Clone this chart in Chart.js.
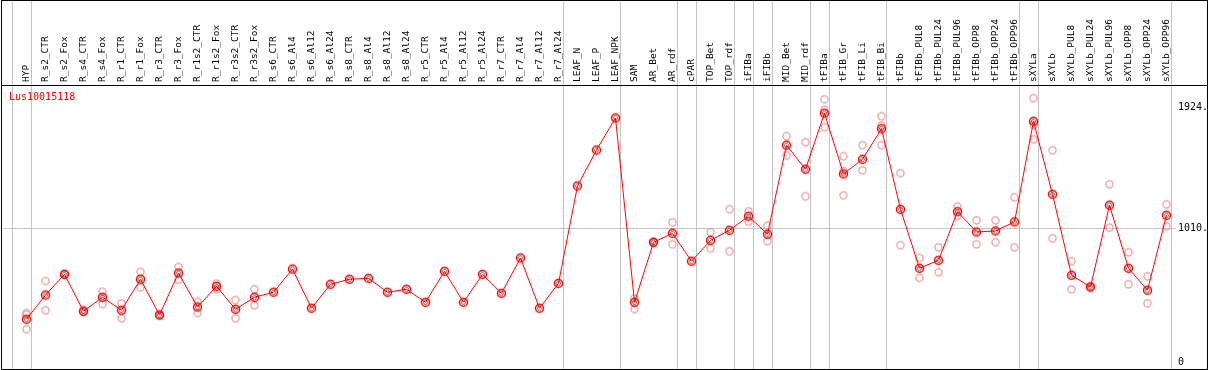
<!DOCTYPE html>
<html>
<head>
<meta charset="utf-8">
<script src="https://cdn.jsdelivr.net/npm/chart.js@4.4.1/dist/chart.umd.min.js"></script>
<style>
	html, body { margin: 0; padding: 0; background: #fff; }
	#wrap { width: 1209px; height: 370px; }
</style>
</head>
<body>
<div id="wrap"><canvas id="expr-chart"></canvas></div>
<script>
const geneName = 'Lus10015118';

const categories = [
	'HYP', 'R_s2_CTR', 'R_s2_Fox', 'R_s4_CTR', 'R_s4_Fox', 'R_r1_CTR', 'R_r1_Fox', 'R_r3_CTR', 'R_r3_Fox',
	'R_r1s2_CTR', 'R_r1s2_Fox', 'R_r3s2_CTR', 'R_r3s2_Fox', 'R_s6_CTR', 'R_s6_Al4', 'R_s6_Al12', 'R_s6_Al24',
	'R_s8_CTR', 'R_s8_Al4', 'R_s8_Al12', 'R_s8_Al24', 'R_r5_CTR', 'R_r5_Al4', 'R_r5_Al12', 'R_r5_Al24',
	'R_r7_CTR', 'R_r7_Al4', 'R_r7_Al12', 'R_r7_Al24', 'LEAF_N', 'LEAF_P', 'LEAF_NPK', 'SAM', 'AR_Bet', 'AR_rdf',
	'cPAR', 'TOP_Bet', 'TOP_rdf', 'iFIBa', 'iFIBb', 'MID_Bet', 'MID_rdf', 'tFIBa', 'tFIB_Gr', 'tFIB_Li', 'tFIB_Bi',
	'tFIBb', 'tFIBb_PUL8', 'tFIBb_PUL24', 'tFIBb_PUL96', 'tFIBb_OPP8', 'tFIBb_OPP24', 'tFIBb_OPP96',
	'sXYLa', 'sXYLb', 'sXYLb_PUL8', 'sXYLb_PUL24', 'sXYLb_PUL96', 'sXYLb_OPP8', 'sXYLb_OPP24', 'sXYLb_OPP96'
];

// mean expression per sample
const meanValues = [
	323, 506, 662, 383, 489, 391, 625, 355, 672, 415,
	572, 398, 489, 527, 702, 406, 587, 625, 632, 527,
	549, 451, 685, 451, 662, 519, 786, 406, 594, 1330,
	1601, 1843, 451, 904, 972, 761, 919, 995, 1101, 965,
	1637, 1456, 1879, 1420, 1531, 1762, 1153, 708, 768, 1135,
	982, 990, 1058, 1818, 1267, 655, 567, 1184, 708, 542, 1108
];

// biological replicates (null = not shown)
const rep1 = [
	370, 612, 660, 378, 531, 443, 680, 350, 718, 455, 592, 468, 549,
	null, null, null, null, null, null, null, null, null, null, null, null, null, null, null, null, null, null, null,
	481, 900, 1055, null, 980, 1154, 1138, 1030, 1705, 1660, 1984, 1554, 1637, 1856,
	1426, 786, 866, 1173, 1070, 1070, 1244, 1992, 1599, 761, 560, 1342, 829, 647, 1191
];
const rep2 = [
	357, 391, 665, 393, 438, 330, 564, 360, 622, 370, 551, 330, 428,
	null, null, null, null, null, null, null, null, null, null, null, null, null, null, null, null, null, null, null,
	400, 908, 889, null, 859, 836, 1060, 912, 1561, 1252, 1904, 1443, 1448, 1785,
	882, 635, 678, 1105, 889, 904, 866, 1790, 934, 549, 572, 1015, 587, 443, 1025
];
const rep3 = categories.map(() => null);
rep3[0] = 247;
rep3[42] = 1773;
rep3[43] = 1259;
rep3[45] = 1637;
rep3[53] = 1682;

const yTicks = [0, 1010, 1924];
const gridValue = 1010;
// index of the last sample of each tissue group (-1 = before the first)
const groupEnds = [-1, 0, 28, 31, 34, 35, 37, 38, 39, 41, 42, 45, 52, 53, 60];

// small ring markers drawn once and reused as point styles
function makeRing(radius, width, color, inner) {
	const c = document.createElement('canvas');
	c.width = 13;
	c.height = 13;
	const g = c.getContext('2d');
	g.strokeStyle = color;
	g.lineWidth = width;
	g.beginPath();
	g.arc(6.5, 6.5, radius, 0, Math.PI * 2);
	g.stroke();
	if (inner) {
		g.strokeStyle = 'rgba(40,0,0,0.7)';
		g.lineWidth = 0.8;
		g.beginPath();
		g.arc(6.5, 6.5, 2.1, 0, Math.PI * 2);
		g.stroke();
	}
	return c;
}

const meanMarker = makeRing(4, 1.5, '#ff0000', true);
const repMarker = makeRing(3.6, 1.2, '#ee9898', false);

const guidesPlugin = {
	id: 'guides',
	beforeDatasetsDraw(chart) {
		const { ctx, chartArea, scales } = chart;
		const xs = scales.x;
		const step = xs.getPixelForValue(1) - xs.getPixelForValue(0);
		ctx.save();
		ctx.strokeStyle = '#c4c4c4';
		ctx.lineWidth = 1;
		groupEnds.forEach((i) => {
			const px = Math.round(xs.getPixelForValue(i) + step * 0.25) + 0.5;
			ctx.beginPath();
			ctx.moveTo(px, 0);
			ctx.lineTo(px, chart.height - 1);
			ctx.stroke();
		});
		const gy = Math.round(scales.y.getPixelForValue(gridValue)) + 0.5;
		ctx.beginPath();
		ctx.moveTo(1, gy);
		ctx.lineTo(chartArea.right, gy);
		ctx.stroke();
		ctx.restore();
	},
	afterDraw(chart) {
		const { ctx, chartArea } = chart;
		ctx.save();
		ctx.strokeStyle = '#000';
		ctx.lineWidth = 1;
		ctx.strokeRect(1.5, 0.5, 1206, 369);
		ctx.beginPath();
		ctx.moveTo(1, chartArea.top + 0.5);
		ctx.lineTo(1208, chartArea.top + 0.5);
		ctx.stroke();
		ctx.fillStyle = '#ff0000';
		ctx.font = "10px 'DejaVu Sans Mono', monospace";
		ctx.textBaseline = 'middle';
		ctx.fillText(geneName, 9, chartArea.top + 12);
		ctx.restore();
	}
};

Chart.defaults.font.family = "'DejaVu Sans Mono', monospace";
Chart.defaults.font.size = 10;
Chart.defaults.color = '#000';

const repDataset = (data) => ({
	type: 'line',
	data: data,
	showLine: false,
	pointStyle: repMarker,
	pointRadius: 5,
	order: 2,
});

new Chart(document.getElementById('expr-chart'), {
	type: 'line',
	data: {
		labels: categories,
		datasets: [
			{
				data: meanValues,
				borderColor: '#ff0000',
				borderWidth: 1,
				tension: 0,
				pointStyle: meanMarker,
				pointRadius: 6,
				order: 1,
			},
			repDataset(rep1),
			repDataset(rep2),
			repDataset(rep3),
		],
	},
	options: {
		responsive: true,
		maintainAspectRatio: false,
		animation: false,
		layout: { padding: { left: 17, right: 0, top: 0, bottom: 8 } },
		plugins: {
			legend: { display: false },
			tooltip: { enabled: false },
		},
		scales: {
			x: {
				type: 'category',
				position: 'top',
				offset: true,
				grid: { display: false, drawTicks: false },
				border: { display: false },
				ticks: {
					autoSkip: false,
					minRotation: 90,
					maxRotation: 90,
					padding: 3,
					labelOffset: 11.4,
					font: { size: 9.5 },
				},
				afterFit: (scale) => {
					scale.height = 85;
				},
			},
			y: {
				position: 'right',
				min: 0,
				max: 2092,
				grid: { display: false, drawTicks: false },
				border: { display: false },
				afterBuildTicks: (scale) => {
					scale.ticks = yTicks.map((v) => ({ value: v }));
				},
				ticks: {
					padding: 2,
					crossAlign: 'near',
					callback: (v) => (v === 0 ? '0' : v + '.'),
				},
				afterFit: (scale) => {
					scale.width = 33;
				},
			},
		},
	},
	plugins: [guidesPlugin],
});
</script>
</body>
</html>
